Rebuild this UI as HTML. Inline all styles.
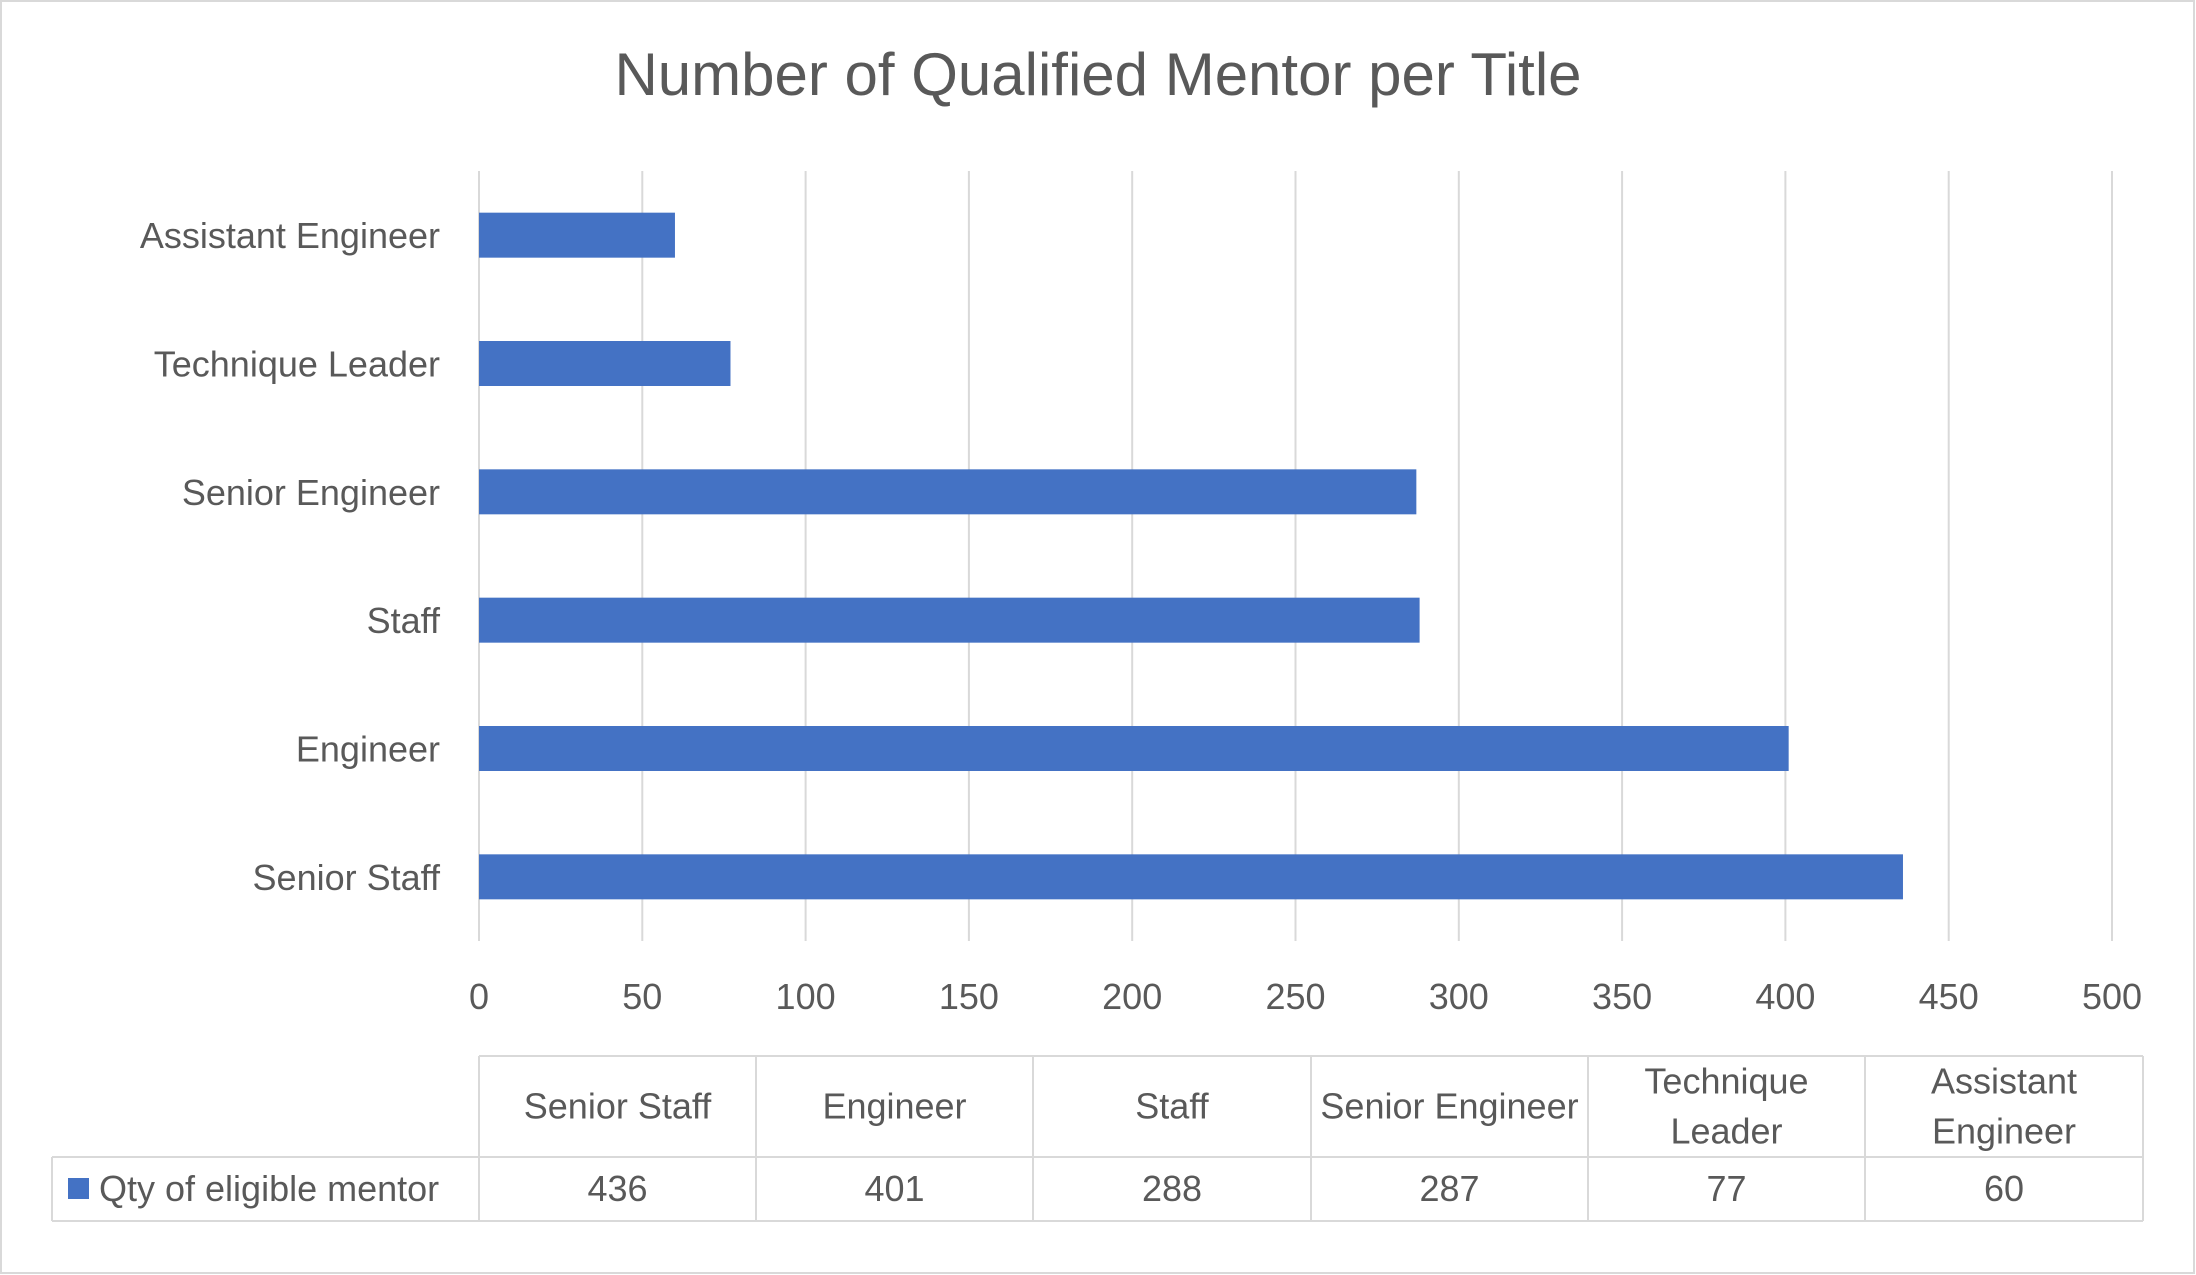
<!DOCTYPE html>
<html><head><meta charset="utf-8"><style>
html,body{margin:0;padding:0;background:#fff;}
svg{display:block;font-family:"Liberation Sans",Calibri,sans-serif;}
</style></head><body>
<svg id="chart" width="2196" height="1275" viewBox="0 0 2196 1275" xmlns="http://www.w3.org/2000/svg">
<rect x="1" y="1" width="2193" height="1272" fill="#fff" stroke="#d9d9d9" stroke-width="2"/>
<text x="1098" y="95" font-size="60" fill="#595959" text-anchor="middle">Number of Qualified Mentor per Title</text>
<g id="grid"></g>
<g id="bars"></g>
<g id="ylabels"></g>
<g id="xlabels"></g>
<g id="table"></g>
</svg>
<script>
const categories = ["Assistant Engineer","Technique Leader","Senior Engineer","Staff","Engineer","Senior Staff"];
const values = [60,77,287,288,401,436];
const tableCats = [["Senior Staff"],["Engineer"],["Staff"],["Senior Engineer"],["Technique","Leader"],["Assistant","Engineer"]];
const tableVals = [436,401,288,287,77,60];
const ticks = [0,50,100,150,200,250,300,350,400,450,500];
const seriesName = "Qty of eligible mentor";

const NS="http://www.w3.org/2000/svg";
const x0=479,x1=2112,yTop=171,yBot=941;
const xs=v=>x0+(v-0)/(500-0)*(x1-x0);
const band=(yBot-yTop)/categories.length;
const yc=i=>yTop+band*(i+0.5);
function mk(tag,attrs,parent,text){const e=document.createElementNS(NS,tag);for(const k in attrs)e.setAttribute(k,attrs[k]);if(text!==undefined)e.textContent=text;parent.appendChild(e);return e;}
const grid=document.getElementById('grid'),bars=document.getElementById('bars'),yl=document.getElementById('ylabels'),xl=document.getElementById('xlabels'),tb=document.getElementById('table');
ticks.forEach(t=>{
  const l=mk('line',{x1:xs(t),x2:xs(t),y1:yTop,y2:yBot,stroke:'#d9d9d9','stroke-width':2},grid);
  
  
  const tx=mk('text',{x:xs(t),y:1009,'font-size':36,fill:'#595959','text-anchor':'middle'},xl,String(t));
  
  
});
const bh=45;
categories.forEach((c,i)=>{
  const r=mk('rect',{x:xs(0),y:yc(i)-bh/2,width:xs(values[i])-xs(0),height:bh,fill:'#4472C4'},bars);
  
  
  const t=mk('text',{x:440,y:yc(i)+13,'font-size':36,fill:'#595959','text-anchor':'end'},yl,c);
  
  
});
const cols=[479,756,1033,1311,1588,1865,2143];
const tTop=1056,tMid=1157,tBot=1221,tLeft=52;
const st={stroke:'#d9d9d9','stroke-width':2};
[[cols[0],tTop,cols[6],tTop],[tLeft,tMid,cols[6],tMid],[tLeft,tBot,cols[6],tBot],[tLeft,tMid,tLeft,tBot]].forEach(p=>{
  const l=mk('line',Object.assign({x1:p[0],y1:p[1],x2:p[2],y2:p[3]},st),tb);
  
  
});
cols.forEach(x=>{
  const l=mk('line',Object.assign({x1:x,y1:tTop,x2:x,y2:tBot},st),tb);
  
  
});
tableCats.forEach((lines,i)=>{
  const cx=(cols[i]+cols[i+1])/2;
  const n=lines.length;
  lines.forEach((s,j)=>{
    const y=(tTop+tMid)/2+12+(j-(n-1)/2)*50;
    const t=mk('text',{x:cx,y:y,'font-size':36,fill:'#595959','text-anchor':'middle'},tb,s);
    
    
  });
  const v=mk('text',{x:cx,y:(tMid+tBot)/2+12,'font-size':36,fill:'#595959','text-anchor':'middle'},tb,String(tableVals[i]));
  
  
});
const key=mk('rect',{x:68,y:1178,width:21,height:21,fill:'#4472C4'},tb);


const lk=mk('text',{x:99,y:1201,'font-size':36,fill:'#595959'},tb,seriesName);


</script>
</body></html>
